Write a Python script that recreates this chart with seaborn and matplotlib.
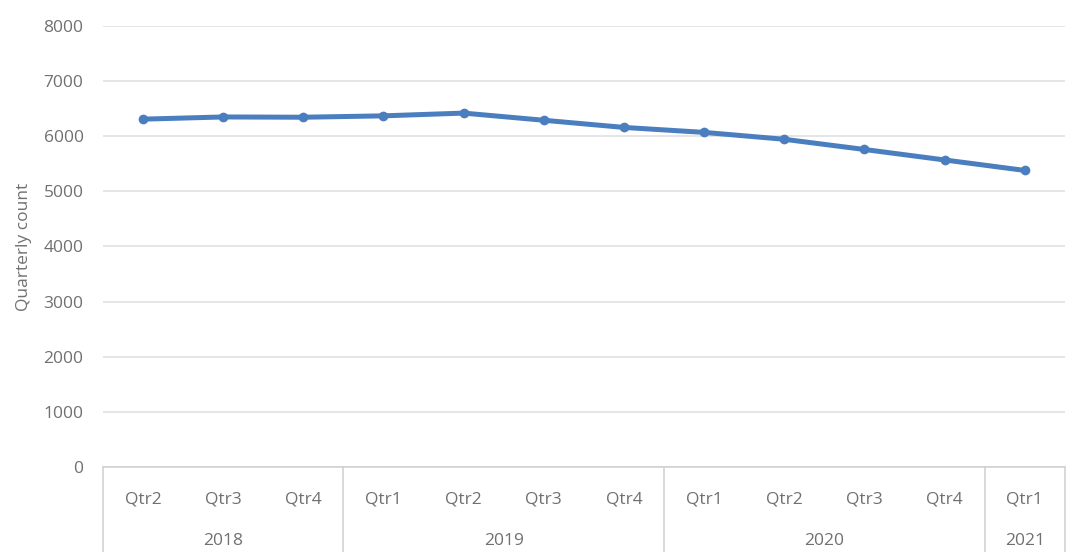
import matplotlib
matplotlib.use("Agg")
import matplotlib.pyplot as plt
import matplotlib.transforms as mtransforms
import seaborn as sns
import numpy as np
import pandas as pd

# quarter labels and years (multi-level axis)
quarters = ["Qtr2", "Qtr3", "Qtr4", "Qtr1", "Qtr2", "Qtr3", "Qtr4",
            "Qtr1", "Qtr2", "Qtr3", "Qtr4", "Qtr1"]
years = ["2018", "2019", "2020", "2021"]
year_sizes = [3, 4, 4, 1]
counts = [6310, 6350, 6345, 6370, 6420, 6290, 6160, 6070, 5945, 5760, 5570, 5380]

sns.set_theme(style="white")
plt.rcParams['font.family'] = ['Open Sans', 'DejaVu Sans']
text_col = "#707070"
fs = 12.5

df = pd.DataFrame({"pos": np.arange(len(counts)), "count": counts})

fig = plt.figure(figsize=(10.68, 5.52), dpi=100)
ax = fig.add_axes([0.0964, 0.154, 0.9006, 0.7989])

sns.lineplot(data=df, x="pos", y="count", ax=ax, color="#4a7ebf",
             linewidth=3.6, marker="o", markersize=7, markeredgewidth=0)

ax.set_ylim(0, 8000)
ax.set_xlim(-0.5, len(counts) - 0.5)
ax.set_yticks(range(0, 8001, 1000))
ax.yaxis.grid(True, color="#dedede", linewidth=1.1)
ax.set_axisbelow(True)
for s in ["top", "right", "left"]:
    ax.spines[s].set_visible(False)
ax.spines["bottom"].set_color("#cfcfcf")
ax.spines["bottom"].set_linewidth(1.1)

ax.set_xticks(df["pos"])
ax.set_xticklabels(quarters)
ax.tick_params(axis="x", length=0, pad=18, labelsize=fs, labelcolor=text_col)
ax.tick_params(axis="y", length=0, pad=14, labelsize=fs, labelcolor=text_col)
ax.set_xlabel("")
ax.set_ylabel("Quarterly count", fontsize=12.5, color=text_col, labelpad=8)

# year row and separators
trans = mtransforms.blended_transform_factory(ax.transData, ax.transAxes)
start = 0
bounds = [-0.5]
for yr, n in zip(years, year_sizes):
    center = start + (n - 1) / 2
    ax.text(center, -0.167, yr, transform=trans, ha="center", va="center",
            fontsize=fs, color=text_col)
    start += n
    bounds.append(start - 0.5)
for b in bounds:
    ax.plot([b, b], [0, -0.2], transform=trans, color="#d0d0d0",
            linewidth=1.1, clip_on=False)

fig.savefig("out.png", dpi=100)
